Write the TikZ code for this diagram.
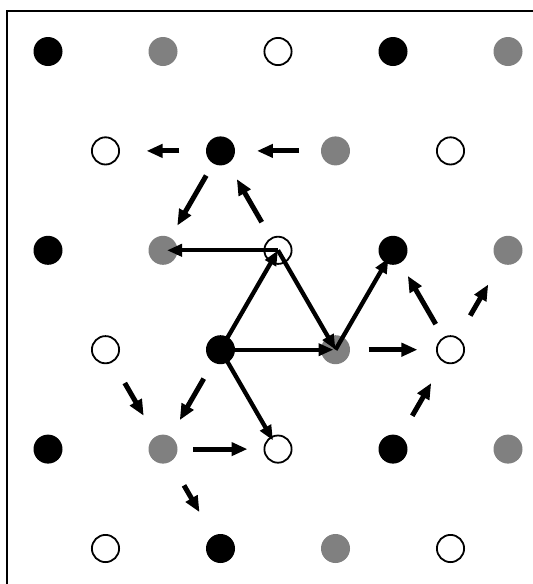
\documentclass[tikz,border=0pt]{standalone}
\usetikzlibrary{arrows.meta,calc}
\definecolor{dotgray}{RGB}{128,128,128}
\tikzset{
  site/.style={circle,inner sep=0pt,minimum size=29pt},
  blk/.style={site,fill=black},
  gry/.style={site,fill=dotgray},
  wht/.style={site,draw=black,fill=white,line width=1.8pt,minimum size=27.2pt},
  longarr/.style={line width=4.3pt,-{Triangle[length=15pt,width=12pt]}},
  hop/.style={line width=5pt,-{Triangle[length=16pt,width=13pt]}},
  frame/.style={line width=2pt}
}
\begin{document}
\begin{tikzpicture}[x=1pt,y=-1pt]
\useasboundingbox (0,0) rectangle (533,584);
\draw[frame] (7,590) -- (7,11) -- (540,11);
% row 1
\node[blk] (r1c1) at (48,51.5) {};
\node[gry] (r1c2) at (163,51.5) {};
\node[wht] (r1c3) at (278,51.5) {};
\node[blk] (r1c4) at (393,51.5) {};
\node[gry] (r1c5) at (508,51.5) {};
% row 2
\node[wht] (r2c1) at (105.5,150.9) {};
\node[blk] (r2c2) at (220.5,150.9) {};
\node[gry] (r2c3) at (335.5,150.9) {};
\node[wht] (r2c4) at (450.5,150.9) {};
% row 3
\node[blk] (r3c1) at (48,250.3) {};
\node[gry] (r3c2) at (163,250.3) {};
\node[wht] (r3c3) at (278,250.3) {};
\node[blk] (r3c4) at (393,250.3) {};
\node[gry] (r3c5) at (508,250.3) {};
% row 4
\node[wht] (r4c1) at (105.5,349.7) {};
\node[blk] (r4c2) at (220.5,349.7) {};
\node[gry] (r4c3) at (335.5,349.7) {};
\node[wht] (r4c4) at (450.5,349.7) {};
% row 5
\node[blk] (r5c1) at (48,449.1) {};
\node[gry] (r5c2) at (163,449.1) {};
\node[wht] (r5c3) at (278,449.1) {};
\node[blk] (r5c4) at (393,449.1) {};
\node[gry] (r5c5) at (508,449.1) {};
% row 6
\node[wht] (r6c1) at (105.5,548.5) {};
\node[blk] (r6c2) at (220.5,548.5) {};
\node[gry] (r6c3) at (335.5,548.5) {};
\node[wht] (r6c4) at (450.5,548.5) {};
% long arrows
\draw[longarr,shorten >=4pt] (r3c3.center) -- (r3c2.center);
\draw[longarr] (r4c2.center) -- (r3c3.center);
\draw[longarr] (r3c3.center) -- (r4c3.center);
\draw[longarr,shorten >=2pt] (r4c2.center) -- (r4c3.center);
\draw[longarr,shorten >=9pt] (r4c3.center) -- (r3c4.center);
\draw[longarr,shorten >=10pt] (r4c2.center) -- (r5c3.center);
% hop arrows
\draw[hop] ($(r2c2)!0.357!(r2c1)$) -- ($(r2c2)!0.643!(r2c1)$);
\draw[hop] ($(r2c3)!0.317!(r2c2)$) -- ($(r2c3)!0.683!(r2c2)$);
\draw[hop] ($(r2c2)!0.248!(r3c2)$) -- ($(r2c2)!0.752!(r3c2)$);
\draw[hop] ($(r3c3)!0.283!(r2c2)$) -- ($(r3c3)!0.717!(r2c2)$);
\draw[hop] ($(r4c3)!0.287!(r4c4)$) -- ($(r4c3)!0.713!(r4c4)$);
\draw[hop] ($(r4c4)!0.257!(r3c4)$) -- ($(r4c4)!0.743!(r3c4)$);
\draw[hop] ($(r4c4)!0.343!(r3c5)$) -- ($(r4c4)!0.657!(r3c5)$);
\draw[hop] ($(r5c4)!0.335!(r4c4)$) -- ($(r5c4)!0.665!(r4c4)$);
\draw[hop] ($(r4c1)!0.335!(r5c2)$) -- ($(r4c1)!0.665!(r5c2)$);
\draw[hop] ($(r4c2)!0.291!(r5c2)$) -- ($(r4c2)!0.709!(r5c2)$);
\draw[hop] ($(r5c2)!0.265!(r5c3)$) -- ($(r5c2)!0.735!(r5c3)$);
\draw[hop] ($(r5c2)!0.365!(r6c2)$) -- ($(r5c2)!0.635!(r6c2)$);
\end{tikzpicture}
\end{document}
